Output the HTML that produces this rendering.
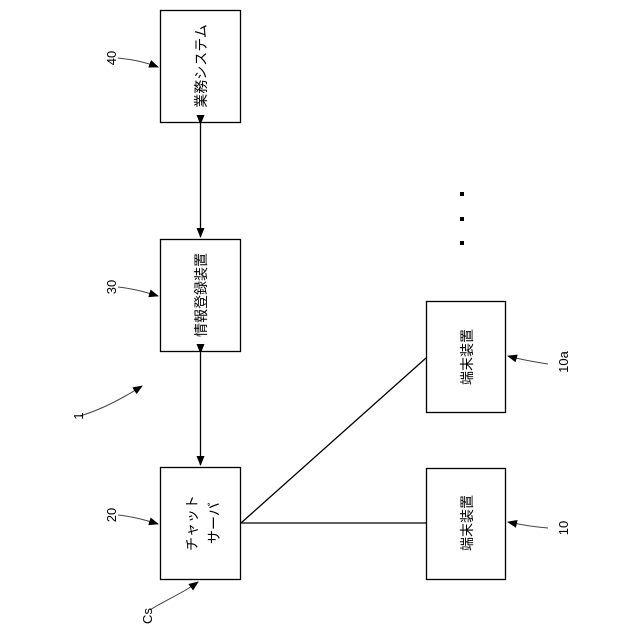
<!DOCTYPE html>
<html><head><meta charset="utf-8"><style>
html,body{margin:0;padding:0;background:#fff;width:640px;height:640px;overflow:hidden}
svg text{font-family:"Liberation Sans","Noto Sans CJK JP",sans-serif;fill:#000}
</style></head><body>
<svg width="640" height="640" viewBox="0 0 640 640" xmlns="http://www.w3.org/2000/svg">
<defs>
<marker id="a" markerWidth="10" markerHeight="8" refX="9" refY="4" orient="auto" markerUnits="userSpaceOnUse">
<path d="M0,0 L10,4 L0,8 z" fill="#000"/></marker>
</defs>
<g fill="none" stroke="#000" stroke-width="1.3">
<rect x="160.5" y="10.5" width="80" height="112"/>
<rect x="160.5" y="239.5" width="80" height="112"/>
<rect x="160.5" y="467.5" width="80" height="112"/>
<rect x="426.5" y="301.5" width="79" height="111"/>
<rect x="426.5" y="468.5" width="79" height="111"/>
<line x1="200.5" y1="124" x2="200.5" y2="237" marker-start="url(#a)" marker-end="url(#a)"/>
<line x1="200.5" y1="353" x2="200.5" y2="465" marker-start="url(#a)" marker-end="url(#a)"/>
<line x1="241" y1="523" x2="426" y2="523"/>
<line x1="241" y1="523" x2="426" y2="358"/>
</g>
<g fill="none" stroke="#444" stroke-width="1">
<path d="M118,58 C135,60 145,62 158,67" marker-end="url(#a)"/>
<path d="M118,287 C135,289 145,292 158,296" marker-end="url(#a)"/>
<path d="M118,515 C135,517 145,520 158,524" marker-end="url(#a)"/>
<path d="M150,610 C165,600 180,595 198,582" marker-end="url(#a)"/>
<path d="M80,416 C100,410 120,400 142,386" marker-end="url(#a)"/>
<path d="M548,364 C535,362 522,360 508,356" marker-end="url(#a)"/>
<path d="M548,528 C535,527 522,525 508,522" marker-end="url(#a)"/>
</g>
<g fill="#000">
<rect x="460" y="192" width="4" height="4"/>
<rect x="460" y="217" width="4" height="4"/>
<rect x="460" y="241" width="4" height="4"/>
</g>
<g font-size="14" text-anchor="middle">
<text transform="translate(206,66) rotate(-90)">業務システム</text>
<text transform="translate(206,295) rotate(-90)">情報登録装置</text>
<text transform="translate(197,523) rotate(-90)">チャット</text>
<text transform="translate(219,523) rotate(-90)">サーバ</text>
<text transform="translate(472,357) rotate(-90)">端末装置</text>
<text transform="translate(472,523) rotate(-90)">端末装置</text>
</g>
<g font-size="13" text-anchor="middle">
<text transform="translate(116,58) rotate(-90)">40</text>
<text transform="translate(116,287) rotate(-90)">30</text>
<text transform="translate(116,515) rotate(-90)">20</text>
<text transform="translate(152,616) rotate(-90)">Cs</text>
<text transform="translate(83,416) rotate(-90)">1</text>
<text transform="translate(568,362) rotate(-90)">10a</text>
<text transform="translate(568,528) rotate(-90)">10</text>
</g>
</svg>
</body></html>
